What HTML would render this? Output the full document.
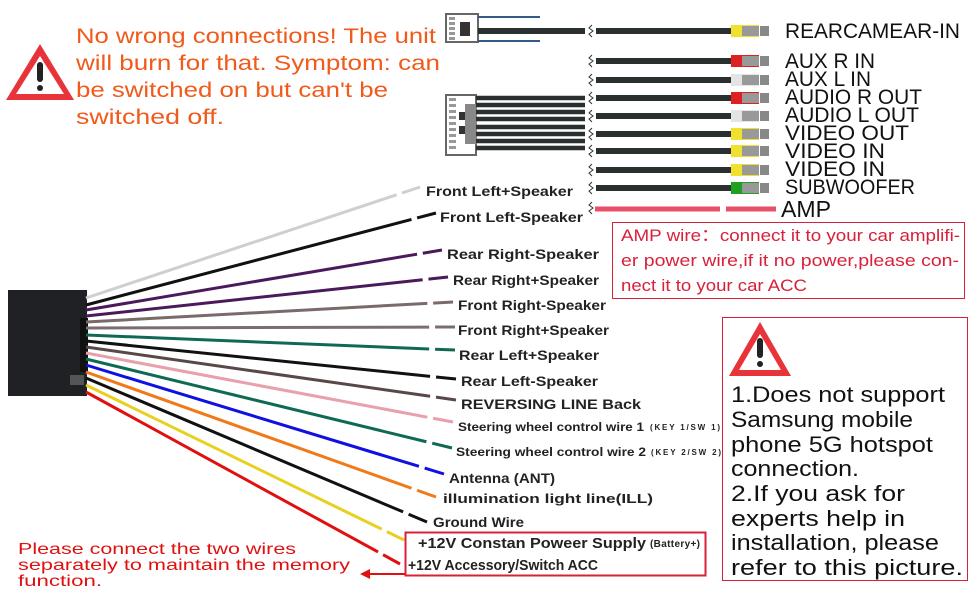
<!DOCTYPE html>
<html><head><meta charset="utf-8"><style>
html,body{margin:0;padding:0;background:#fff;}
svg{display:block;}
text{font-family:"Liberation Sans",sans-serif;}
</style></head><body>
<svg width="970" height="600" viewBox="0 0 970 600" xmlns="http://www.w3.org/2000/svg">
<!-- top-left warning -->
<polygon points="40,44 74,100 6,100" fill="#e8333a"/>
<polygon points="40,56 64,94 16,94" fill="#fff"/>
<rect x="37" y="62" width="6" height="20" rx="3" fill="#222"/>
<circle cx="40" cy="88" r="3" fill="#222"/>
<g fill="#f05a1a" font-size="21">
<text x="76" y="43" textLength="360" lengthAdjust="spacingAndGlyphs">No wrong connections! The unit</text>
<text x="76" y="70" textLength="364" lengthAdjust="spacingAndGlyphs">will burn for that. Symptom: can</text>
<text x="76" y="97" textLength="312" lengthAdjust="spacingAndGlyphs">be switched on but can't be</text>
<text x="76" y="124" textLength="148" lengthAdjust="spacingAndGlyphs">switched off.</text>
</g>

<!-- top right connectors -->
<rect x="446" y="14" width="32" height="28" fill="#fff" stroke="#666" stroke-width="2"/>
<g fill="#999"><rect x="449" y="17" width="6" height="3"/><rect x="449" y="22" width="6" height="3"/><rect x="449" y="27" width="6" height="3"/><rect x="449" y="32" width="6" height="3"/><rect x="449" y="37" width="6" height="3"/></g>
<rect x="460" y="22" width="10" height="14" fill="#333"/>
<line x1="478" y1="17" x2="540" y2="17" stroke="#335a88" stroke-width="2"/>
<line x1="478" y1="41" x2="540" y2="41" stroke="#335a88" stroke-width="2"/>
<line x1="478" y1="31" x2="585" y2="31" stroke="#2a2f2f" stroke-width="6"/>

<rect x="446" y="95" width="30" height="60" fill="#fff" stroke="#666" stroke-width="2"/>
<g fill="#999"><rect x="449" y="98" width="7" height="3"/><rect x="449" y="104" width="7" height="3"/><rect x="449" y="110" width="7" height="3"/><rect x="449" y="116" width="7" height="3"/><rect x="449" y="122" width="7" height="3"/><rect x="449" y="128" width="7" height="3"/><rect x="449" y="134" width="7" height="3"/><rect x="449" y="140" width="7" height="3"/><rect x="449" y="146" width="7" height="3"/></g>
<rect x="465" y="104" width="12" height="40" fill="#888"/>
<rect x="459" y="112" width="6" height="8" fill="#333"/><rect x="459" y="126" width="6" height="8" fill="#333"/>
<g stroke="#2a2f2f" stroke-width="4.5">
<line x1="476" y1="98" x2="585" y2="98"/><line x1="476" y1="105" x2="585" y2="105"/><line x1="476" y1="112" x2="585" y2="112"/><line x1="476" y1="119" x2="585" y2="119"/><line x1="476" y1="127" x2="585" y2="127"/><line x1="476" y1="134" x2="585" y2="134"/><line x1="476" y1="141" x2="585" y2="141"/><line x1="476" y1="148" x2="585" y2="148"/>
</g>
<!-- squiggles -->
<g fill="none" stroke="#333" stroke-width="1">
<path d="M592,25 l-3,3 l4,3 l-4,3 l3,3"/>
<path d="M592,55 l-3,3 l4,3 l-4,3 l3,3"/>
<path d="M592,74 l-3,3 l4,3 l-4,3 l3,3"/>
<path d="M592,92 l-3,3 l4,3 l-4,3 l3,3"/>
<path d="M592,110 l-3,3 l4,3 l-4,3 l3,3"/>
<path d="M592,128 l-3,3 l4,3 l-4,3 l3,3"/>
<path d="M592,145 l-3,3 l4,3 l-4,3 l3,3"/>
<path d="M592,164 l-3,3 l4,3 l-4,3 l3,3"/>
<path d="M592,182 l-3,3 l4,3 l-4,3 l3,3"/>
<path d="M592,202 l-3,3 l4,3 l-4,3 l3,3"/>
</g>
<g stroke="#2a2f2f" stroke-width="6">
<line x1="596" y1="31" x2="731" y2="31"/><line x1="596" y1="61" x2="731" y2="61"/><line x1="596" y1="80" x2="731" y2="80"/><line x1="596" y1="98" x2="731" y2="98"/><line x1="596" y1="116" x2="731" y2="116"/><line x1="596" y1="134" x2="731" y2="134"/><line x1="596" y1="151" x2="731" y2="151"/><line x1="596" y1="170" x2="731" y2="170"/><line x1="596" y1="188" x2="731" y2="188"/>
</g>
<!-- plugs -->
<g>
<rect x="731" y="25" width="28" height="12" fill="#f0e030"/><rect x="742" y="26" width="17" height="10" fill="#999"/><rect x="760" y="26" width="9" height="10" fill="#888"/>
<rect x="731" y="55" width="28" height="12" fill="#e02020"/><rect x="742" y="56" width="17" height="10" fill="#999"/><rect x="760" y="56" width="9" height="10" fill="#888"/>
<rect x="731" y="74" width="28" height="12" fill="#e4e4e4"/><rect x="742" y="75" width="17" height="10" fill="#999"/><rect x="760" y="75" width="9" height="10" fill="#888"/>
<rect x="731" y="92" width="28" height="12" fill="#e02020"/><rect x="742" y="93" width="17" height="10" fill="#999"/><rect x="760" y="93" width="9" height="10" fill="#888"/>
<rect x="731" y="110" width="28" height="12" fill="#e4e4e4"/><rect x="742" y="111" width="17" height="10" fill="#999"/><rect x="760" y="111" width="9" height="10" fill="#888"/>
<rect x="731" y="128" width="28" height="12" fill="#f0e030"/><rect x="742" y="129" width="17" height="10" fill="#999"/><rect x="760" y="129" width="9" height="10" fill="#888"/>
<rect x="731" y="145" width="28" height="12" fill="#f0e030"/><rect x="742" y="146" width="17" height="10" fill="#999"/><rect x="760" y="146" width="9" height="10" fill="#888"/>
<rect x="731" y="164" width="28" height="12" fill="#f0e030"/><rect x="742" y="165" width="17" height="10" fill="#999"/><rect x="760" y="165" width="9" height="10" fill="#888"/>
<rect x="731" y="182" width="28" height="12" fill="#20a020"/><rect x="742" y="183" width="17" height="10" fill="#999"/><rect x="760" y="183" width="9" height="10" fill="#888"/>
</g>
<line x1="595" y1="209" x2="720" y2="209" stroke="#e8506a" stroke-width="5"/>
<line x1="726" y1="209" x2="776" y2="209" stroke="#e8506a" stroke-width="5"/>
<g fill="#111" font-size="21">
<text x="785" y="38" textLength="175" lengthAdjust="spacingAndGlyphs">REARCAMEAR-IN</text>
<text x="785" y="68" textLength="90" lengthAdjust="spacingAndGlyphs">AUX R IN</text>
<text x="785" y="86" textLength="86" lengthAdjust="spacingAndGlyphs">AUX L IN</text>
<text x="785" y="104" textLength="137" lengthAdjust="spacingAndGlyphs">AUDIO R OUT</text>
<text x="785" y="122" textLength="134" lengthAdjust="spacingAndGlyphs">AUDIO L OUT</text>
<text x="785" y="140" textLength="124" lengthAdjust="spacingAndGlyphs">VIDEO  OUT</text>
<text x="785" y="158" textLength="100" lengthAdjust="spacingAndGlyphs">VIDEO  IN</text>
<text x="785" y="176" textLength="100" lengthAdjust="spacingAndGlyphs">VIDEO  IN</text>
<text x="785" y="194" textLength="130" lengthAdjust="spacingAndGlyphs">SUBWOOFER</text>
<text x="781" y="217" font-size="23" textLength="50" lengthAdjust="spacingAndGlyphs">AMP</text>
</g>
<rect x="612.5" y="222.5" width="352" height="76" fill="none" stroke="#d8203a" stroke-width="1"/>
<g fill="#d8203a" font-size="17">
<text x="621" y="241" textLength="339" lengthAdjust="spacingAndGlyphs">AMP wire：connect it to your car amplifi-</text>
<text x="621" y="266" textLength="338" lengthAdjust="spacingAndGlyphs">er power wire,if it no power,please con-</text>
<text x="621" y="291" textLength="186" lengthAdjust="spacingAndGlyphs">nect it to your car ACC</text>
</g>

<!-- harness connector -->
<rect x="8" y="290" width="79" height="106" fill="#1f2124"/>
<rect x="80" y="318" width="8" height="54" fill="#111"/>
<rect x="70" y="375" width="14" height="10" fill="#555"/>

<!-- wires -->
<g stroke-width="3" fill="none" stroke-dasharray="93 1.6 100">
<line pathLength="100" x1="86" y1="298" x2="420" y2="187" stroke="#cfcfcf"/>
<line pathLength="100" x1="86" y1="305" x2="436" y2="213" stroke="#111"/>
<line pathLength="100" x1="86" y1="310" x2="442" y2="250" stroke="#4b1a5a"/>
<line pathLength="100" x1="86" y1="316" x2="448" y2="277" stroke="#4b1a5a"/>
<line pathLength="100" x1="86" y1="322" x2="453" y2="302" stroke="#7a6a6a"/>
<line pathLength="100" x1="86" y1="328" x2="455" y2="327" stroke="#7a6e70"/>
<line pathLength="100" x1="86" y1="335" x2="455" y2="350" stroke="#0f6a55"/>
<line pathLength="100" x1="86" y1="341" x2="456" y2="379" stroke="#111"/>
<line pathLength="100" x1="86" y1="347" x2="456" y2="400" stroke="#5a4848"/>
<line pathLength="100" x1="86" y1="353" x2="453" y2="422" stroke="#e8a0aa"/>
<line pathLength="100" x1="86" y1="359" x2="452" y2="448" stroke="#0f6a55"/>
<line pathLength="100" x1="86" y1="365" x2="444" y2="474" stroke="#1010e0"/>
<line pathLength="100" x1="86" y1="372" x2="436" y2="497" stroke="#f07a1a"/>
<line pathLength="100" x1="86" y1="378" x2="427" y2="522" stroke="#111"/>
<line pathLength="100" x1="86" y1="385" x2="404" y2="540" stroke="#e8d020"/>
<line pathLength="100" x1="86" y1="392" x2="400" y2="564" stroke="#e01010"/>
</g>
<g fill="#222" font-size="14" font-weight="bold">
<text x="426" y="196" textLength="147" lengthAdjust="spacingAndGlyphs">Front Left+Speaker</text>
<text x="440" y="222" textLength="143" lengthAdjust="spacingAndGlyphs">Front Left-Speaker</text>
<text x="447" y="259" textLength="152" lengthAdjust="spacingAndGlyphs">Rear Right-Speaker</text>
<text x="453" y="285" textLength="146" lengthAdjust="spacingAndGlyphs">Rear Right+Speaker</text>
<text x="458" y="310" textLength="148" lengthAdjust="spacingAndGlyphs">Front Right-Speaker</text>
<text x="458" y="335" textLength="151" lengthAdjust="spacingAndGlyphs">Front Right+Speaker</text>
<text x="459" y="360" textLength="140" lengthAdjust="spacingAndGlyphs">Rear Left+Speaker</text>
<text x="461" y="386" textLength="137" lengthAdjust="spacingAndGlyphs">Rear Left-Speaker</text>
<text x="461" y="409" textLength="180" lengthAdjust="spacingAndGlyphs">REVERSING LINE Back</text>
<text x="458" y="431" font-size="12" textLength="186" lengthAdjust="spacingAndGlyphs">Steering wheel control wire 1</text>
<text x="650" y="430" font-size="8" textLength="70">(KEY 1/SW 1)</text>
<text x="456" y="456" font-size="12" textLength="190" lengthAdjust="spacingAndGlyphs">Steering wheel control wire 2</text>
<text x="651" y="455" font-size="8" textLength="70">(KEY 2/SW 2)</text>
<text x="449" y="483" textLength="106" lengthAdjust="spacingAndGlyphs">Antenna (ANT)</text>
<text x="443" y="503" font-size="13" textLength="210" lengthAdjust="spacingAndGlyphs">illumination light line(ILL)</text>
<text x="433" y="527" textLength="91" lengthAdjust="spacingAndGlyphs">Ground Wire</text>
<text x="418" y="548" font-size="15" textLength="228" lengthAdjust="spacingAndGlyphs">+12V Constan Poweer Supply</text>
<text x="650" y="547" font-size="10" textLength="50">(Battery+)</text>
<text x="408" y="570" font-size="15" textLength="190" lengthAdjust="spacingAndGlyphs">+12V Accessory/Switch ACC</text>
</g>
<rect x="405.5" y="532.5" width="300" height="43" fill="none" stroke="#d8203a" stroke-width="2"/>
<line x1="405" y1="574" x2="368" y2="574" stroke="#e01010" stroke-width="2"/>
<polygon points="360,574 370,569 370,579" fill="#e01010"/>
<g fill="#e01010" font-size="16">
<text x="18" y="554" textLength="278" lengthAdjust="spacingAndGlyphs">Please connect the two wires</text>
<text x="18" y="570" textLength="332" lengthAdjust="spacingAndGlyphs">separately to maintain the memory</text>
<text x="18" y="586" textLength="84" lengthAdjust="spacingAndGlyphs">function.</text>
</g>

<!-- right warning box -->
<rect x="722.5" y="317.5" width="245" height="263" fill="none" stroke="#d8203a" stroke-width="1"/>
<polygon points="760,322 791,376 729,376" fill="#e8333a"/>
<polygon points="760,334 781,370 739,370" fill="#fff"/>
<rect x="757" y="338" width="6" height="20" rx="3" fill="#222"/>
<circle cx="760" cy="364" r="3" fill="#222"/>
<g fill="#111" font-size="22">
<text x="731" y="402" textLength="214" lengthAdjust="spacingAndGlyphs">1.Does not support</text>
<text x="731" y="427" textLength="182" lengthAdjust="spacingAndGlyphs">Samsung mobile</text>
<text x="731" y="452" textLength="202" lengthAdjust="spacingAndGlyphs">phone 5G hotspot</text>
<text x="731" y="476" textLength="128" lengthAdjust="spacingAndGlyphs">connection.</text>
<text x="731" y="501" textLength="174" lengthAdjust="spacingAndGlyphs">2.If you ask for</text>
<text x="731" y="526" textLength="174" lengthAdjust="spacingAndGlyphs">experts  help in</text>
<text x="731" y="550" textLength="208" lengthAdjust="spacingAndGlyphs">installation, please</text>
<text x="731" y="575" textLength="232" lengthAdjust="spacingAndGlyphs">refer to this picture.</text>
</g>
</svg>
</body></html>
